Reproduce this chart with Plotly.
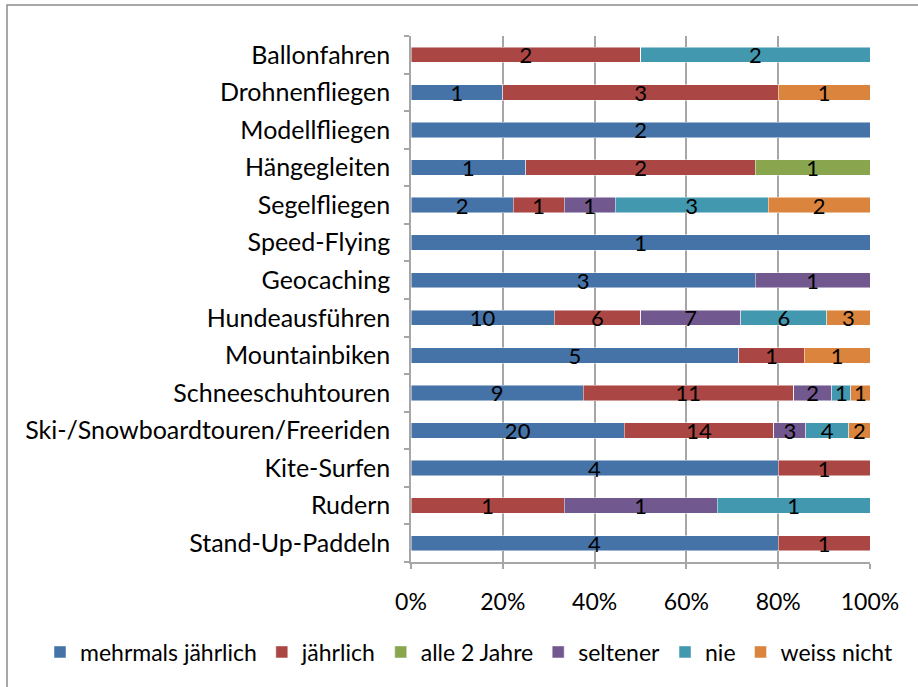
import plotly.graph_objects as go

# categories listed bottom -> top, as plotly draws them
categories = [
    "Stand-Up-Paddeln", "Rudern", "Kite-Surfen",
    "Ski-/Snowboardtouren/Freeriden", "Schneeschuhtouren", "Mountainbiken",
    "Hundeausführen", "Geocaching", "Speed-Flying", "Segelfliegen",
    "Hängegleiten", "Modellfliegen", "Drohnenfliegen", "Ballonfahren",
]

mehrmals_jaehrlich = [4, 0, 4, 20, 9, 5, 10, 3, 1, 2, 1, 2, 1, 0]
jaehrlich          = [1, 1, 1, 14, 11, 1, 6, 0, 0, 1, 2, 0, 3, 2]
alle_2_jahre       = [0, 0, 0, 0, 0, 0, 0, 0, 0, 0, 1, 0, 0, 0]
seltener           = [0, 1, 0, 3, 2, 0, 7, 1, 0, 1, 0, 0, 0, 0]
nie                = [0, 1, 0, 4, 1, 0, 6, 0, 0, 3, 0, 0, 0, 2]
weiss_nicht        = [0, 0, 0, 2, 1, 1, 3, 0, 0, 2, 0, 0, 1, 0]

series = [
    ("mehrmals jährlich", mehrmals_jaehrlich, "#4572A7"),
    ("jährlich",          jaehrlich,          "#AA4643"),
    ("alle 2 Jahre",      alle_2_jahre,       "#89A54E"),
    ("seltener",          seltener,           "#71588F"),
    ("nie",               nie,                "#4198AF"),
    ("weiss nicht",       weiss_nicht,        "#DB843D"),
]

x_ticks = [0, 20, 40, 60, 80, 100]
x_ticktext = ["0%", "20%", "40%", "60%", "80%", "100%"]

FONT = "Lato"
AXIS_GRAY = "#A6A6A6"

# plot area in pixels (from the reference)
PL, PR, PT, PB = 411, 870, 36, 562
PW, PH = PR - PL, PB - PT

fig = go.Figure()
for name, vals, color in series:
    fig.add_trace(go.Bar(
        y=categories, x=vals, name=name, orientation="h",
        marker=dict(color=color, line=dict(color="rgba(255,255,255,0.6)", width=0.8)),
        text=[str(v) if v else "" for v in vals],
        texttemplate="%{text}",
        textposition="inside", insidetextanchor="middle", textangle=0,
        textfont=dict(family=FONT, size=22, color="black"),
        constraintext="none",
        width=0.41,
        hoverinfo="skip",
    ))

fig.update_layout(
    barmode="stack", barnorm="percent",
    width=918, height=687,
    margin=dict(l=PL, r=918 - PR, t=PT, b=687 - PB, autoexpand=False),
    paper_bgcolor="white", plot_bgcolor="white",
    font=dict(family=FONT, size=24, color="black"),
    uniformtext=dict(mode=False),
    legend=dict(
        orientation="h",
        x=(40 - PL) / PW, xanchor="left",
        y=(PB - 652) / PH, yanchor="middle",
        font=dict(family=FONT, size=23), itemwidth=30,
        traceorder="normal", bgcolor="rgba(0,0,0,0)",
    ),
    showlegend=True,
)

fig.update_xaxes(
    range=[0, 100], tickvals=x_ticks, ticktext=x_ticktext,
    showgrid=True, gridcolor=AXIS_GRAY, gridwidth=1.5,
    showline=True, linecolor=AXIS_GRAY, linewidth=1.5,
    ticks="outside", ticklen=5, tickcolor=AXIS_GRAY, tickwidth=1.5,
    ticklabelstandoff=14,
    zeroline=False, fixedrange=True,
    tickfont=dict(family=FONT, size=23),
)
fig.update_yaxes(
    showgrid=False, showline=True, linecolor=AXIS_GRAY, linewidth=1.5,
    ticks="outside", ticklen=5, tickcolor=AXIS_GRAY, tickwidth=1.5,
    tickson="boundaries", ticklabelstandoff=14,
    tickfont=dict(family=FONT, size=25),
    fixedrange=True,
)

# outer chart border (only top/left edges are inside the crop)
fig.add_shape(
    type="rect", xref="paper", yref="paper",
    x0=(7 - PL) / PW, x1=1.3, y0=-0.5, y1=(PB - 5) / PH,
    line=dict(color="#8C8C8C", width=1.5), layer="below",
)

fig.write_html(
    "out.html",
    config={"displayModeBar": False},
    post_script="document.body.style.margin='0';",
)
